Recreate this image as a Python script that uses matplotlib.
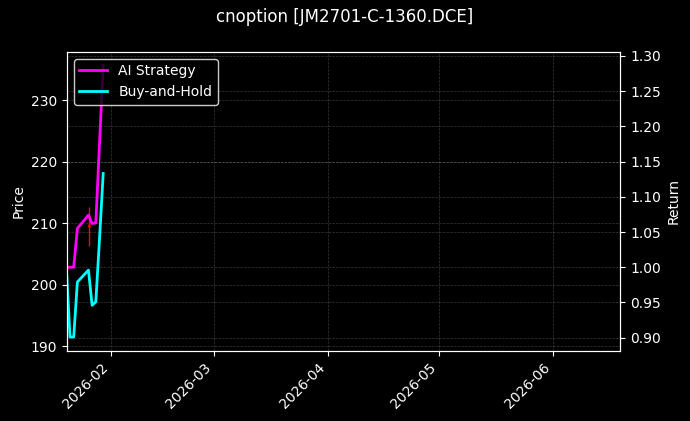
import matplotlib
matplotlib.use("Agg")
import matplotlib.pyplot as plt
import matplotlib.dates as mdates
import pandas as pd

# Data
dates = pd.to_datetime(["2026-01-20", "2026-01-21", "2026-01-22", "2026-01-23", "2026-01-26",
                        "2026-01-27", "2026-01-28", "2026-01-29", "2026-01-30"])
ai_return = [1.000, 1.000, 1.000, 1.055, 1.074, 1.062, 1.063, 1.175, 1.286]
bh_return = [1.000, 0.901, 0.901, 0.979, 0.996, 0.946, 0.951, 1.040, 1.133]

# Visible candle (the others sit behind the return lines)
candle_dates = pd.to_datetime(["2026-01-26 06:00"])
candle_open = [209.8]
candle_close = [209.4]
candle_high = [212.6]
candle_low = [206.2]

plt.style.use("dark_background")
fig = plt.figure(figsize=(6.9, 4.21), dpi=100)
ax = fig.add_axes([0.097, 0.167, 0.802, 0.710])
ax2 = ax.twinx()

# Candles on the price axis
for d, o, c, h, l in zip(candle_dates, candle_open, candle_close, candle_high, candle_low):
    col = "red" if c < o else "lime"
    ax.vlines(d, l, h, color=col, linewidth=1.0)
    ax.vlines(d, min(o, c), max(o, c), color=col, linewidth=1.8)

# Return lines
ax2.plot(dates, ai_return, color="magenta", linewidth=2, label="AI Strategy")
ax2.plot(dates, bh_return, color="cyan", linewidth=2, label="Buy-and-Hold")

ax.set_xlim(pd.Timestamp("2026-01-20 04:00"), pd.Timestamp("2026-06-19 05:00"))
ax.set_ylim(189.24, 237.85)
ax2.set_ylim(0.8816, 1.3057)

ax.set_ylabel("Price")
ax2.set_ylabel("Return")

ax.xaxis.set_major_locator(mdates.MonthLocator())
ax.xaxis.set_major_formatter(mdates.DateFormatter("%Y-%m"))
plt.setp(ax.get_xticklabels(), rotation=45, ha="right")

ax.grid(True, linestyle="--", linewidth=0.5, alpha=0.22)
ax2.grid(True, linestyle="--", linewidth=0.5, alpha=0.22)

leg = ax2.legend(loc="upper left", framealpha=0.8, facecolor="black", edgecolor="white")

fig.suptitle("cnoption [JM2701-C-1360.DCE]", fontsize=12)

fig.savefig("out.png", dpi=100)
